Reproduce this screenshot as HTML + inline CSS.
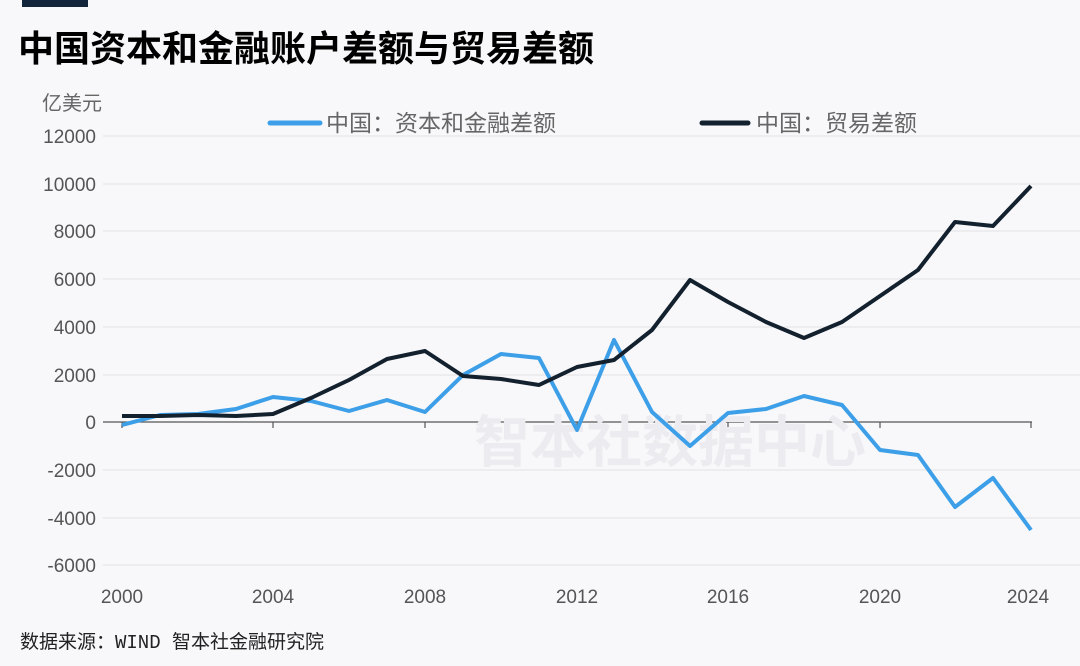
<!DOCTYPE html>
<html><head><meta charset="utf-8"><style>
html,body{margin:0;padding:0;background:#f8f8fa;}
body{width:1080px;height:666px;overflow:hidden;position:relative;font-family:"Liberation Sans","Noto Sans CJK SC",sans-serif;}
</style></head><body>
<svg width="1080" height="666" xmlns="http://www.w3.org/2000/svg" style="position:absolute;left:0;top:0">
<rect x="22" y="0" width="66" height="7" fill="#13253a"/>
<text x="18" y="61" font-size="36" font-weight="bold" fill="#000" font-family="Noto Sans CJK SC,sans-serif">中国资本和金融账户差额与贸易差额</text>
<text x="42" y="110" font-size="20" fill="#666" font-family="Noto Sans CJK SC,sans-serif">亿美元</text>
<g stroke="#e2e2e6" stroke-width="1">
<line x1="103" x2="1080" y1="136" y2="136"/><line x1="103" x2="1080" y1="184" y2="184"/>
<line x1="103" x2="1080" y1="231" y2="231"/><line x1="103" x2="1080" y1="279" y2="279"/>
<line x1="103" x2="1080" y1="327" y2="327"/><line x1="103" x2="1080" y1="375" y2="375"/>
<line x1="103" x2="1080" y1="470" y2="470"/><line x1="103" x2="1080" y1="518" y2="518"/>
<line x1="103" x2="1080" y1="565" y2="565"/>
</g>
<g stroke="#555" stroke-width="1.2">
<line x1="103" x2="1032" y1="422" y2="422"/>
<line x1="122" x2="122" y1="422" y2="428"/><line x1="273" x2="273" y1="422" y2="428"/>
<line x1="425" x2="425" y1="422" y2="428"/><line x1="577" x2="577" y1="422" y2="428"/>
<line x1="728" x2="728" y1="422" y2="428"/><line x1="880" x2="880" y1="422" y2="428"/>
<line x1="1031" x2="1031" y1="422" y2="428"/>
</g>
<g font-size="19" fill="#555" text-anchor="end">
<text x="96" y="143">12000</text><text x="96" y="191">10000</text><text x="96" y="238">8000</text>
<text x="96" y="286">6000</text><text x="96" y="334">4000</text><text x="96" y="382">2000</text>
<text x="96" y="429">0</text><text x="96" y="477">-2000</text><text x="96" y="525">-4000</text>
<text x="96" y="572">-6000</text>
</g>
<g font-size="19" fill="#555" text-anchor="middle">
<text x="122" y="603">2000</text><text x="273" y="603">2004</text><text x="425" y="603">2008</text>
<text x="577" y="603">2012</text><text x="728" y="603">2016</text><text x="880" y="603">2020</text>
<text x="1028" y="603">2024</text>
</g>
<text x="670" y="462" font-size="56" font-weight="bold" fill="#ececf0" text-anchor="middle" font-family="Noto Sans CJK SC,sans-serif">智本社数据中心</text>
<line x1="270" x2="320" y1="123" y2="123" stroke="#3d9fe8" stroke-width="5" stroke-linecap="round"/>
<text x="326" y="131" font-size="23" fill="#666" font-family="Noto Sans CJK SC,sans-serif">中国：资本和金融差额</text>
<line x1="702" x2="748" y1="123" y2="123" stroke="#13202e" stroke-width="5" stroke-linecap="round"/>
<text x="756" y="131" font-size="23" fill="#666" font-family="Noto Sans CJK SC,sans-serif">中国：贸易差额</text>
<polyline fill="none" stroke="#3d9fe8" stroke-width="4" stroke-linejoin="round" points="122,425 160,415 198,414 236,409 273,397 311,401 349,411 387,400 425,412 463,375 501,354 539,358 577,430 614,340 652,412 690,446 728,413 766,409 804,396 842,405 880,450 918,455 955,507 993,478 1031,530"/>
<polyline fill="none" stroke="#13202e" stroke-width="4" stroke-linejoin="round" points="122,416 160,416 198,415 236,416 273,414 311,398 349,380 387,359 425,351 463,376 501,379 539,385 577,367 614,360 652,330 690,280 728,302 766,322 804,338 842,322 880,296 918,270 955,222 993,226 1031,186"/>
<text x="20" y="648" font-size="19" fill="#222" font-family="Liberation Mono,Noto Sans CJK SC,monospace">数据来源：WIND 智本社金融研究院</text>
</svg>
</body></html>
